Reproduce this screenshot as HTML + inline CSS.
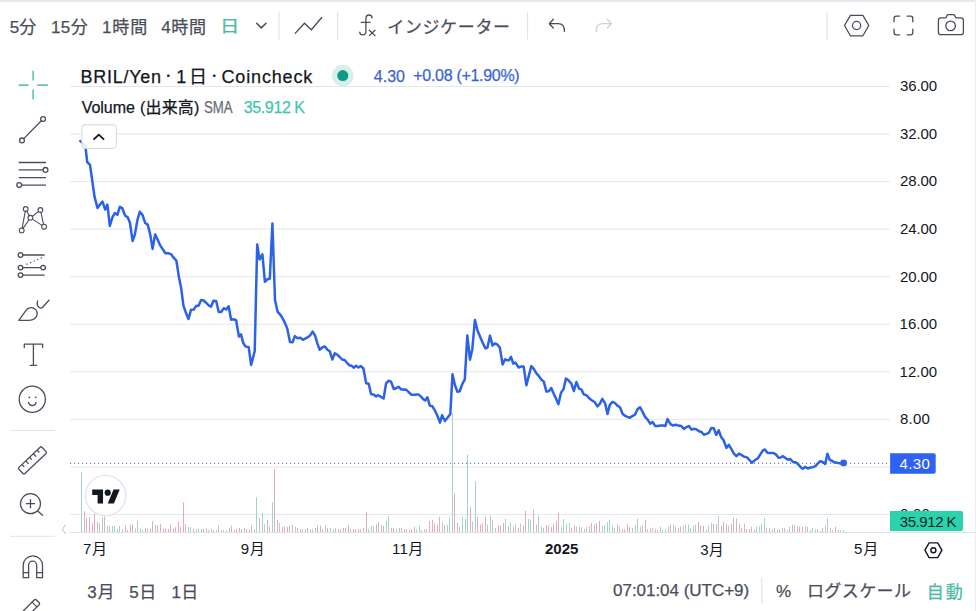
<!DOCTYPE html>
<html lang="ja"><head><meta charset="utf-8"><title>BRIL/Yen chart</title>
<style>
html,body{margin:0;padding:0;background:#fff;}
body{width:976px;height:611px;overflow:hidden;position:relative;font-family:"Liberation Sans","Noto Sans CJK JP",sans-serif;color:#4a4e5a;}
#root{position:absolute;left:0;top:0;width:976px;height:611px;overflow:hidden;background:#fff;}
.t{position:absolute;white-space:nowrap;line-height:1;}
.s{-webkit-text-stroke:0.25px currentColor;}
.tb{font-size:17px;color:#4a4e5a;}
.ax{font-size:15px;color:#131722;}
.ic{position:absolute;overflow:visible;}
.ic *{vector-effect:none;}
</style></head><body><div id="root">
<div style="position:absolute;left:0;top:0;width:976px;height:2px;background:#e7e9ef"></div>
<div style="position:absolute;left:975px;top:0;width:1px;height:611px;background:#eceef2"></div>
<svg id="chart" width="976" height="611" viewBox="0 0 976 611" style="position:absolute;left:0;top:0">
<rect x="70" y="86" width="820" height="1" fill="#e5e6ea"/>
<rect x="70" y="133.55" width="820" height="1" fill="#e5e6ea"/>
<rect x="70" y="181.1" width="820" height="1" fill="#e5e6ea"/>
<rect x="70" y="228.65" width="820" height="1" fill="#e5e6ea"/>
<rect x="70" y="276.2" width="820" height="1" fill="#e5e6ea"/>
<rect x="70" y="323.75" width="820" height="1" fill="#e5e6ea"/>
<rect x="70" y="371.3" width="820" height="1" fill="#e5e6ea"/>
<rect x="70" y="418.85" width="820" height="1" fill="#e5e6ea"/>
<rect x="70" y="466.4" width="820" height="1" fill="#e5e6ea"/>
<rect x="70" y="513.95" width="820" height="1" fill="#e5e6ea"/>
<rect x="70" y="532" width="905" height="1" fill="#e1e3e9"/>
<rect x="81" y="472.2" width="1" height="60" fill="#a4d3cc"/>
<rect x="84" y="511.2" width="1" height="21" fill="#e4abb8"/>
<rect x="86" y="517.8" width="1" height="14.4" fill="#e4abb8"/>
<rect x="89" y="517.2" width="1" height="15" fill="#e4abb8"/>
<rect x="92" y="523.2" width="1" height="9" fill="#e4abb8"/>
<rect x="94" y="513.8" width="1" height="18.4" fill="#e4abb8"/>
<rect x="97" y="521.8" width="1" height="10.4" fill="#e4abb8"/>
<rect x="99" y="523.2" width="1" height="9" fill="#a4d3cc"/>
<rect x="102" y="517.2" width="1" height="15" fill="#a4d3cc"/>
<rect x="104" y="516.5" width="1" height="15.7" fill="#e4abb8"/>
<rect x="107" y="525.8" width="1" height="6.4" fill="#a4d3cc"/>
<rect x="109" y="525.8" width="1" height="6.4" fill="#e4abb8"/>
<rect x="112" y="525.8" width="1" height="6.4" fill="#a4d3cc"/>
<rect x="114" y="525.8" width="1" height="6.4" fill="#a4d3cc"/>
<rect x="117" y="529.2" width="1" height="3" fill="#a4d3cc"/>
<rect x="119" y="525.8" width="1" height="6.4" fill="#a4d3cc"/>
<rect x="122" y="529.2" width="1" height="3" fill="#a4d3cc"/>
<rect x="125" y="525.8" width="1" height="6.4" fill="#e4abb8"/>
<rect x="127" y="529.8" width="1" height="2.4" fill="#e4abb8"/>
<rect x="130" y="524.7" width="1" height="7.5" fill="#e4abb8"/>
<rect x="132" y="524.2" width="1" height="8" fill="#e4abb8"/>
<rect x="135" y="528.5" width="1" height="3.7" fill="#a4d3cc"/>
<rect x="137" y="521.2" width="1" height="11" fill="#a4d3cc"/>
<rect x="140" y="528.5" width="1" height="3.7" fill="#a4d3cc"/>
<rect x="142" y="529.8" width="1" height="2.4" fill="#a4d3cc"/>
<rect x="145" y="527.8" width="1" height="4.4" fill="#e4abb8"/>
<rect x="147" y="528.7" width="1" height="3.5" fill="#a4d3cc"/>
<rect x="150" y="528.5" width="1" height="3.7" fill="#e4abb8"/>
<rect x="152" y="521.2" width="1" height="11" fill="#e4abb8"/>
<rect x="155" y="524.7" width="1" height="7.5" fill="#a4d3cc"/>
<rect x="157" y="525.2" width="1" height="7" fill="#e4abb8"/>
<rect x="160" y="523.8" width="1" height="8.4" fill="#e4abb8"/>
<rect x="163" y="528.7" width="1" height="3.5" fill="#e4abb8"/>
<rect x="165" y="528.5" width="1" height="3.7" fill="#e4abb8"/>
<rect x="168" y="529.2" width="1" height="3" fill="#e4abb8"/>
<rect x="170" y="524.7" width="1" height="7.5" fill="#e4abb8"/>
<rect x="173" y="528.5" width="1" height="3.7" fill="#e4abb8"/>
<rect x="175" y="527.2" width="1" height="5" fill="#e4abb8"/>
<rect x="178" y="521.2" width="1" height="11" fill="#e4abb8"/>
<rect x="180" y="527.2" width="1" height="5" fill="#e4abb8"/>
<rect x="183" y="502.2" width="1" height="30" fill="#e4abb8"/>
<rect x="185" y="524.2" width="1" height="8" fill="#e4abb8"/>
<rect x="188" y="526.9" width="1" height="5.3" fill="#a4d3cc"/>
<rect x="190" y="527.2" width="1" height="5" fill="#a4d3cc"/>
<rect x="193" y="528.5" width="1" height="3.7" fill="#e4abb8"/>
<rect x="196" y="529.2" width="1" height="3" fill="#a4d3cc"/>
<rect x="198" y="528.5" width="1" height="3.7" fill="#a4d3cc"/>
<rect x="201" y="529.2" width="1" height="3" fill="#a4d3cc"/>
<rect x="203" y="529.2" width="1" height="3" fill="#e4abb8"/>
<rect x="206" y="528.6" width="1" height="3.6" fill="#e4abb8"/>
<rect x="208" y="530.2" width="1" height="2" fill="#e4abb8"/>
<rect x="211" y="528.9" width="1" height="3.3" fill="#a4d3cc"/>
<rect x="213" y="530.2" width="1" height="2" fill="#a4d3cc"/>
<rect x="216" y="530.2" width="1" height="2" fill="#e4abb8"/>
<rect x="218" y="525.7" width="1" height="6.5" fill="#e4abb8"/>
<rect x="221" y="530.2" width="1" height="2" fill="#a4d3cc"/>
<rect x="223" y="530.2" width="1" height="2" fill="#a4d3cc"/>
<rect x="226" y="530.2" width="1" height="2" fill="#e4abb8"/>
<rect x="229" y="527.9" width="1" height="4.3" fill="#a4d3cc"/>
<rect x="231" y="525.7" width="1" height="6.5" fill="#e4abb8"/>
<rect x="234" y="530.2" width="1" height="2" fill="#e4abb8"/>
<rect x="236" y="529.2" width="1" height="3" fill="#e4abb8"/>
<rect x="239" y="527.9" width="1" height="4.3" fill="#e4abb8"/>
<rect x="241" y="529.2" width="1" height="3" fill="#a4d3cc"/>
<rect x="244" y="527.9" width="1" height="4.3" fill="#e4abb8"/>
<rect x="246" y="529.2" width="1" height="3" fill="#e4abb8"/>
<rect x="249" y="530.2" width="1" height="2" fill="#e4abb8"/>
<rect x="251" y="525.7" width="1" height="6.5" fill="#e4abb8"/>
<rect x="254" y="529.2" width="1" height="3" fill="#a4d3cc"/>
<rect x="256" y="497.2" width="1" height="35" fill="#a4d3cc"/>
<rect x="259" y="517.9" width="1" height="14.3" fill="#e4abb8"/>
<rect x="262" y="512.8" width="1" height="19.4" fill="#a4d3cc"/>
<rect x="264" y="523.9" width="1" height="8.3" fill="#a4d3cc"/>
<rect x="267" y="520" width="1" height="12.2" fill="#e4abb8"/>
<rect x="269" y="526.5" width="1" height="5.7" fill="#e4abb8"/>
<rect x="272" y="502.2" width="1" height="30" fill="#a4d3cc"/>
<rect x="274" y="469.2" width="1" height="63" fill="#e4abb8"/>
<rect x="277" y="520" width="1" height="12.2" fill="#e4abb8"/>
<rect x="279" y="522.9" width="1" height="9.3" fill="#a4d3cc"/>
<rect x="282" y="526.7" width="1" height="5.5" fill="#e4abb8"/>
<rect x="284" y="526.7" width="1" height="5.5" fill="#e4abb8"/>
<rect x="287" y="526.7" width="1" height="5.5" fill="#e4abb8"/>
<rect x="289" y="525.7" width="1" height="6.5" fill="#e4abb8"/>
<rect x="292" y="525" width="1" height="7.2" fill="#e4abb8"/>
<rect x="295" y="526.7" width="1" height="5.5" fill="#a4d3cc"/>
<rect x="297" y="527.9" width="1" height="4.3" fill="#e4abb8"/>
<rect x="300" y="529.2" width="1" height="3" fill="#e4abb8"/>
<rect x="302" y="529.2" width="1" height="3" fill="#a4d3cc"/>
<rect x="305" y="529.2" width="1" height="3" fill="#a4d3cc"/>
<rect x="307" y="527.9" width="1" height="4.3" fill="#e4abb8"/>
<rect x="310" y="529.2" width="1" height="3" fill="#a4d3cc"/>
<rect x="312" y="529.2" width="1" height="3" fill="#a4d3cc"/>
<rect x="315" y="527.9" width="1" height="4.3" fill="#e4abb8"/>
<rect x="317" y="525.7" width="1" height="6.5" fill="#e4abb8"/>
<rect x="320" y="525.7" width="1" height="6.5" fill="#e4abb8"/>
<rect x="322" y="529.2" width="1" height="3" fill="#e4abb8"/>
<rect x="325" y="525" width="1" height="7.2" fill="#a4d3cc"/>
<rect x="327" y="527.9" width="1" height="4.3" fill="#e4abb8"/>
<rect x="330" y="527.9" width="1" height="4.3" fill="#e4abb8"/>
<rect x="333" y="529.2" width="1" height="3" fill="#a4d3cc"/>
<rect x="335" y="527.9" width="1" height="4.3" fill="#a4d3cc"/>
<rect x="338" y="529.2" width="1" height="3" fill="#e4abb8"/>
<rect x="340" y="529.2" width="1" height="3" fill="#e4abb8"/>
<rect x="343" y="527.9" width="1" height="4.3" fill="#e4abb8"/>
<rect x="345" y="527.9" width="1" height="4.3" fill="#e4abb8"/>
<rect x="348" y="525" width="1" height="7.2" fill="#e4abb8"/>
<rect x="350" y="529.2" width="1" height="3" fill="#e4abb8"/>
<rect x="353" y="529.2" width="1" height="3" fill="#e4abb8"/>
<rect x="355" y="529.2" width="1" height="3" fill="#e4abb8"/>
<rect x="358" y="529.2" width="1" height="3" fill="#e4abb8"/>
<rect x="360" y="529.2" width="1" height="3" fill="#a4d3cc"/>
<rect x="363" y="527.9" width="1" height="4.3" fill="#e4abb8"/>
<rect x="366" y="511.8" width="1" height="20.4" fill="#e4abb8"/>
<rect x="368" y="529.2" width="1" height="3" fill="#e4abb8"/>
<rect x="371" y="525.7" width="1" height="6.5" fill="#a4d3cc"/>
<rect x="373" y="525.7" width="1" height="6.5" fill="#a4d3cc"/>
<rect x="376" y="523.9" width="1" height="8.3" fill="#e4abb8"/>
<rect x="378" y="521.9" width="1" height="10.3" fill="#a4d3cc"/>
<rect x="381" y="524.7" width="1" height="7.5" fill="#e4abb8"/>
<rect x="383" y="525.7" width="1" height="6.5" fill="#e4abb8"/>
<rect x="386" y="521" width="1" height="11.2" fill="#a4d3cc"/>
<rect x="388" y="516" width="1" height="16.2" fill="#a4d3cc"/>
<rect x="391" y="527.9" width="1" height="4.3" fill="#e4abb8"/>
<rect x="393" y="527.9" width="1" height="4.3" fill="#e4abb8"/>
<rect x="396" y="529.2" width="1" height="3" fill="#a4d3cc"/>
<rect x="399" y="527.9" width="1" height="4.3" fill="#a4d3cc"/>
<rect x="401" y="527.9" width="1" height="4.3" fill="#e4abb8"/>
<rect x="404" y="529.2" width="1" height="3" fill="#e4abb8"/>
<rect x="406" y="529.2" width="1" height="3" fill="#e4abb8"/>
<rect x="409" y="530.2" width="1" height="2" fill="#e4abb8"/>
<rect x="411" y="529.2" width="1" height="3" fill="#e4abb8"/>
<rect x="414" y="526.7" width="1" height="5.5" fill="#e4abb8"/>
<rect x="416" y="529.2" width="1" height="3" fill="#a4d3cc"/>
<rect x="419" y="525.7" width="1" height="6.5" fill="#a4d3cc"/>
<rect x="421" y="530.2" width="1" height="2" fill="#e4abb8"/>
<rect x="424" y="529.2" width="1" height="3" fill="#e4abb8"/>
<rect x="426" y="529.2" width="1" height="3" fill="#a4d3cc"/>
<rect x="429" y="521" width="1" height="11.2" fill="#e4abb8"/>
<rect x="432" y="520" width="1" height="12.2" fill="#e4abb8"/>
<rect x="434" y="523.6" width="1" height="8.6" fill="#e4abb8"/>
<rect x="437" y="525" width="1" height="7.2" fill="#e4abb8"/>
<rect x="439" y="516.7" width="1" height="15.5" fill="#e4abb8"/>
<rect x="442" y="521.9" width="1" height="10.3" fill="#a4d3cc"/>
<rect x="444" y="525" width="1" height="7.2" fill="#e4abb8"/>
<rect x="447" y="525" width="1" height="7.2" fill="#a4d3cc"/>
<rect x="449" y="517.9" width="1" height="14.3" fill="#a4d3cc"/>
<rect x="452" y="413.2" width="1" height="119" fill="#a4d3cc"/>
<rect x="454" y="493.8" width="1" height="38.4" fill="#e4abb8"/>
<rect x="457" y="522.9" width="1" height="9.3" fill="#e4abb8"/>
<rect x="459" y="526.7" width="1" height="5.5" fill="#a4d3cc"/>
<rect x="462" y="516.7" width="1" height="15.5" fill="#a4d3cc"/>
<rect x="465" y="518.6" width="1" height="13.6" fill="#a4d3cc"/>
<rect x="467" y="454.7" width="1" height="77.5" fill="#a4d3cc"/>
<rect x="470" y="506.8" width="1" height="25.4" fill="#e4abb8"/>
<rect x="472" y="521.8" width="1" height="10.4" fill="#a4d3cc"/>
<rect x="475" y="481.4" width="1" height="50.8" fill="#a4d3cc"/>
<rect x="477" y="516.7" width="1" height="15.5" fill="#e4abb8"/>
<rect x="480" y="524.5" width="1" height="7.7" fill="#e4abb8"/>
<rect x="482" y="523.4" width="1" height="8.8" fill="#e4abb8"/>
<rect x="485" y="516.7" width="1" height="15.5" fill="#e4abb8"/>
<rect x="487" y="524.5" width="1" height="7.7" fill="#a4d3cc"/>
<rect x="490" y="515.6" width="1" height="16.6" fill="#a4d3cc"/>
<rect x="492" y="520.2" width="1" height="12" fill="#e4abb8"/>
<rect x="495" y="527.8" width="1" height="4.4" fill="#a4d3cc"/>
<rect x="498" y="525.6" width="1" height="6.6" fill="#e4abb8"/>
<rect x="500" y="525.6" width="1" height="6.6" fill="#e4abb8"/>
<rect x="503" y="522.9" width="1" height="9.3" fill="#e4abb8"/>
<rect x="505" y="518.5" width="1" height="13.7" fill="#a4d3cc"/>
<rect x="508" y="526" width="1" height="6.2" fill="#e4abb8"/>
<rect x="510" y="522.9" width="1" height="9.3" fill="#a4d3cc"/>
<rect x="513" y="526.7" width="1" height="5.5" fill="#e4abb8"/>
<rect x="515" y="523.8" width="1" height="8.4" fill="#a4d3cc"/>
<rect x="518" y="527.8" width="1" height="4.4" fill="#e4abb8"/>
<rect x="520" y="523.8" width="1" height="8.4" fill="#a4d3cc"/>
<rect x="523" y="525.6" width="1" height="6.6" fill="#e4abb8"/>
<rect x="525" y="510.8" width="1" height="21.4" fill="#e4abb8"/>
<rect x="528" y="518.9" width="1" height="13.3" fill="#a4d3cc"/>
<rect x="530" y="519.6" width="1" height="12.6" fill="#a4d3cc"/>
<rect x="533" y="509.7" width="1" height="22.5" fill="#e4abb8"/>
<rect x="536" y="524.5" width="1" height="7.7" fill="#e4abb8"/>
<rect x="538" y="515.6" width="1" height="16.6" fill="#a4d3cc"/>
<rect x="541" y="526.7" width="1" height="5.5" fill="#a4d3cc"/>
<rect x="543" y="527.8" width="1" height="4.4" fill="#a4d3cc"/>
<rect x="546" y="524.9" width="1" height="7.3" fill="#e4abb8"/>
<rect x="548" y="525.6" width="1" height="6.6" fill="#e4abb8"/>
<rect x="551" y="526.7" width="1" height="5.5" fill="#e4abb8"/>
<rect x="553" y="523.8" width="1" height="8.4" fill="#e4abb8"/>
<rect x="556" y="520.7" width="1" height="11.5" fill="#e4abb8"/>
<rect x="558" y="512.8" width="1" height="19.4" fill="#e4abb8"/>
<rect x="561" y="526.7" width="1" height="5.5" fill="#a4d3cc"/>
<rect x="563" y="518.9" width="1" height="13.3" fill="#a4d3cc"/>
<rect x="566" y="523.8" width="1" height="8.4" fill="#a4d3cc"/>
<rect x="569" y="522.9" width="1" height="9.3" fill="#a4d3cc"/>
<rect x="571" y="527.8" width="1" height="4.4" fill="#e4abb8"/>
<rect x="574" y="524.9" width="1" height="7.3" fill="#e4abb8"/>
<rect x="576" y="526.7" width="1" height="5.5" fill="#a4d3cc"/>
<rect x="579" y="526.7" width="1" height="5.5" fill="#e4abb8"/>
<rect x="581" y="527.3" width="1" height="4.9" fill="#e4abb8"/>
<rect x="584" y="528.9" width="1" height="3.3" fill="#a4d3cc"/>
<rect x="586" y="526.7" width="1" height="5.5" fill="#a4d3cc"/>
<rect x="589" y="525.6" width="1" height="6.6" fill="#e4abb8"/>
<rect x="591" y="522.9" width="1" height="9.3" fill="#e4abb8"/>
<rect x="594" y="524.5" width="1" height="7.7" fill="#e4abb8"/>
<rect x="596" y="522.9" width="1" height="9.3" fill="#e4abb8"/>
<rect x="599" y="520.7" width="1" height="11.5" fill="#e4abb8"/>
<rect x="602" y="526" width="1" height="6.2" fill="#a4d3cc"/>
<rect x="604" y="525.6" width="1" height="6.6" fill="#a4d3cc"/>
<rect x="607" y="522.2" width="1" height="10" fill="#a4d3cc"/>
<rect x="609" y="519.6" width="1" height="12.6" fill="#a4d3cc"/>
<rect x="612" y="525.7" width="1" height="6.5" fill="#a4d3cc"/>
<rect x="614" y="527.9" width="1" height="4.3" fill="#a4d3cc"/>
<rect x="617" y="524.7" width="1" height="7.5" fill="#e4abb8"/>
<rect x="619" y="526.7" width="1" height="5.5" fill="#a4d3cc"/>
<rect x="622" y="529.2" width="1" height="3" fill="#e4abb8"/>
<rect x="624" y="529.2" width="1" height="3" fill="#e4abb8"/>
<rect x="627" y="523.9" width="1" height="8.3" fill="#e4abb8"/>
<rect x="629" y="526.7" width="1" height="5.5" fill="#e4abb8"/>
<rect x="632" y="527.9" width="1" height="4.3" fill="#a4d3cc"/>
<rect x="635" y="525" width="1" height="7.2" fill="#a4d3cc"/>
<rect x="637" y="518.6" width="1" height="13.6" fill="#a4d3cc"/>
<rect x="640" y="526.7" width="1" height="5.5" fill="#a4d3cc"/>
<rect x="642" y="525.7" width="1" height="6.5" fill="#e4abb8"/>
<rect x="645" y="520" width="1" height="12.2" fill="#e4abb8"/>
<rect x="647" y="529.2" width="1" height="3" fill="#e4abb8"/>
<rect x="650" y="527.9" width="1" height="4.3" fill="#e4abb8"/>
<rect x="652" y="527.9" width="1" height="4.3" fill="#a4d3cc"/>
<rect x="655" y="529.2" width="1" height="3" fill="#e4abb8"/>
<rect x="657" y="530.2" width="1" height="2" fill="#e4abb8"/>
<rect x="660" y="526.7" width="1" height="5.5" fill="#a4d3cc"/>
<rect x="662" y="530.2" width="1" height="2" fill="#a4d3cc"/>
<rect x="665" y="529.2" width="1" height="3" fill="#a4d3cc"/>
<rect x="668" y="526.7" width="1" height="5.5" fill="#a4d3cc"/>
<rect x="670" y="524.7" width="1" height="7.5" fill="#e4abb8"/>
<rect x="673" y="524.7" width="1" height="7.5" fill="#a4d3cc"/>
<rect x="675" y="526.7" width="1" height="5.5" fill="#e4abb8"/>
<rect x="678" y="527.9" width="1" height="4.3" fill="#e4abb8"/>
<rect x="680" y="526.7" width="1" height="5.5" fill="#e4abb8"/>
<rect x="683" y="525.7" width="1" height="6.5" fill="#a4d3cc"/>
<rect x="685" y="524.7" width="1" height="7.5" fill="#a4d3cc"/>
<rect x="688" y="524.7" width="1" height="7.5" fill="#a4d3cc"/>
<rect x="690" y="527.9" width="1" height="4.3" fill="#e4abb8"/>
<rect x="693" y="525.7" width="1" height="6.5" fill="#a4d3cc"/>
<rect x="695" y="524.7" width="1" height="7.5" fill="#a4d3cc"/>
<rect x="698" y="521.9" width="1" height="10.3" fill="#e4abb8"/>
<rect x="700" y="525.7" width="1" height="6.5" fill="#e4abb8"/>
<rect x="703" y="525.7" width="1" height="6.5" fill="#e4abb8"/>
<rect x="706" y="529.2" width="1" height="3" fill="#a4d3cc"/>
<rect x="708" y="525.7" width="1" height="6.5" fill="#a4d3cc"/>
<rect x="711" y="522.9" width="1" height="9.3" fill="#a4d3cc"/>
<rect x="713" y="523.9" width="1" height="8.3" fill="#e4abb8"/>
<rect x="716" y="523.9" width="1" height="8.3" fill="#e4abb8"/>
<rect x="718" y="516" width="1" height="16.2" fill="#a4d3cc"/>
<rect x="721" y="525.7" width="1" height="6.5" fill="#e4abb8"/>
<rect x="723" y="521.9" width="1" height="10.3" fill="#e4abb8"/>
<rect x="726" y="523.9" width="1" height="8.3" fill="#e4abb8"/>
<rect x="728" y="525.7" width="1" height="6.5" fill="#a4d3cc"/>
<rect x="731" y="523.9" width="1" height="8.3" fill="#e4abb8"/>
<rect x="733" y="517.9" width="1" height="14.3" fill="#e4abb8"/>
<rect x="736" y="518.6" width="1" height="13.6" fill="#e4abb8"/>
<rect x="739" y="523.9" width="1" height="8.3" fill="#a4d3cc"/>
<rect x="741" y="527.9" width="1" height="4.3" fill="#e4abb8"/>
<rect x="744" y="523.9" width="1" height="8.3" fill="#e4abb8"/>
<rect x="746" y="529.2" width="1" height="3" fill="#e4abb8"/>
<rect x="749" y="529.2" width="1" height="3" fill="#e4abb8"/>
<rect x="751" y="526.7" width="1" height="5.5" fill="#e4abb8"/>
<rect x="754" y="529.2" width="1" height="3" fill="#e4abb8"/>
<rect x="756" y="526.7" width="1" height="5.5" fill="#a4d3cc"/>
<rect x="759" y="526.7" width="1" height="5.5" fill="#a4d3cc"/>
<rect x="761" y="523.9" width="1" height="8.3" fill="#a4d3cc"/>
<rect x="764" y="517.9" width="1" height="14.3" fill="#a4d3cc"/>
<rect x="766" y="527.9" width="1" height="4.3" fill="#e4abb8"/>
<rect x="769" y="527.9" width="1" height="4.3" fill="#e4abb8"/>
<rect x="772" y="529.2" width="1" height="3" fill="#a4d3cc"/>
<rect x="774" y="527.9" width="1" height="4.3" fill="#e4abb8"/>
<rect x="777" y="530.2" width="1" height="2" fill="#e4abb8"/>
<rect x="779" y="529.2" width="1" height="3" fill="#e4abb8"/>
<rect x="782" y="527.9" width="1" height="4.3" fill="#a4d3cc"/>
<rect x="784" y="527.9" width="1" height="4.3" fill="#e4abb8"/>
<rect x="787" y="530.2" width="1" height="2" fill="#a4d3cc"/>
<rect x="789" y="526.7" width="1" height="5.5" fill="#a4d3cc"/>
<rect x="792" y="524.7" width="1" height="7.5" fill="#e4abb8"/>
<rect x="794" y="524.7" width="1" height="7.5" fill="#a4d3cc"/>
<rect x="797" y="526.7" width="1" height="5.5" fill="#e4abb8"/>
<rect x="799" y="526.7" width="1" height="5.5" fill="#e4abb8"/>
<rect x="802" y="526.7" width="1" height="5.5" fill="#e4abb8"/>
<rect x="805" y="525.7" width="1" height="6.5" fill="#a4d3cc"/>
<rect x="807" y="526.7" width="1" height="5.5" fill="#e4abb8"/>
<rect x="810" y="530.2" width="1" height="2" fill="#a4d3cc"/>
<rect x="812" y="527.9" width="1" height="4.3" fill="#a4d3cc"/>
<rect x="815" y="529.2" width="1" height="3" fill="#a4d3cc"/>
<rect x="817" y="529.2" width="1" height="3" fill="#a4d3cc"/>
<rect x="820" y="531" width="1" height="1.2" fill="#e4abb8"/>
<rect x="822" y="527.9" width="1" height="4.3" fill="#e4abb8"/>
<rect x="825" y="525.7" width="1" height="6.5" fill="#a4d3cc"/>
<rect x="827" y="517.9" width="1" height="14.3" fill="#a4d3cc"/>
<rect x="830" y="527.9" width="1" height="4.3" fill="#e4abb8"/>
<rect x="832" y="530.2" width="1" height="2" fill="#e4abb8"/>
<rect x="835" y="526.7" width="1" height="5.5" fill="#e4abb8"/>
<rect x="838" y="530.2" width="1" height="2" fill="#e4abb8"/>
<rect x="840" y="530.2" width="1" height="2" fill="#a4d3cc"/>
<rect x="843" y="530.2" width="1" height="2" fill="#a4d3cc"/>
<line x1="70" y1="463.3" x2="890" y2="463.3" stroke="#3a57b5" stroke-width="1.1" stroke-dasharray="1.1 2.9"/>
<polyline points="80.3,141 83,143.5 85.6,148 87.2,162 90,164.8 92.3,181 94.6,197.2 97.5,207.9 100,204.5 102.5,201.6 105.2,209.5 107.4,204.6 109.8,225.9 112.5,217.2 114.9,213.1 117.4,214.8 119.8,206.9 122.3,208.2 125.1,215.6 127.7,217.2 130,223 132.6,241 134.9,234.4 137.5,219.7 139.8,211.8 142.5,214.8 145.2,223 147.7,224.6 150.2,234.4 152.6,248.9 155.1,234.4 157.5,239.3 160,245.1 162.5,248.9 165.4,253.3 168.2,253.3 171,254.1 173.6,257.7 176.4,260.7 178.9,277 181.2,288.3 183.4,305.4 185.9,312.8 188.5,319 191,309.8 193.8,309.5 196.2,305.9 198.7,305.4 201.1,300 203.6,300.5 206.4,303 209,305.7 211,306.7 213.4,300.8 216.2,301 218.7,312 221.1,312 223.8,308.2 226.2,309.5 228.7,306.2 231.1,319.7 233.6,319.3 236.1,320.2 238.9,336.6 241,334.4 243.3,343.1 245.4,346.4 248.7,347.2 251.1,364.9 254.7,351.3 257.2,244.5 259.6,259.5 262.4,254.3 264.9,281.8 267.5,279.2 269.8,278.8 272.4,223.5 275,300 277.5,311.6 280,314.3 282.3,317.7 284.8,322.6 287.2,328.4 290,342 292.6,342.3 294.9,336.1 297.5,338.2 300.3,337.7 302.8,339.8 305.2,338.7 307.5,337.4 310,335.6 312.6,331.6 315.1,335.7 317.5,343.9 319.7,349.7 322.5,347.2 324.9,346.4 327.4,349.7 329.8,351.3 332.3,359.5 334.8,353.3 337.2,354.6 339.7,357 342.1,359.5 344.6,360 347,362.8 349.2,365.2 351.5,365.7 353.6,367.7 356.1,365.7 358.5,367.4 361,366.1 363.4,368.5 366.2,383.3 368.7,383.8 371.1,394.3 373.6,394.4 376.1,396.4 378.2,395.2 381,396.9 383.6,398.5 386.1,383.3 388.5,380.8 391,381.6 393.8,389 396.2,388.2 398.7,386.9 401.1,389.3 403.6,389.8 406.1,389.5 408.5,392 411.5,394.8 414.3,394.8 416.7,394.4 418.4,394.4 420.8,396.4 423,398.9 425.2,400.5 427.4,397.2 429.8,405.7 432.3,406.2 434.8,410.3 437.2,415.2 440,422.6 442.1,415.2 444.9,421 447.5,417.7 450.3,413.9 452.5,374.3 454.8,384.8 457.4,391.7 459.7,391.2 462.4,383.8 464.8,379.4 467.3,335.4 470,359.7 472.3,349.2 474.9,320 477.4,330.3 480.2,336.9 483,343.4 485.4,348.4 487.5,347.5 490,335.6 492.5,345.6 494.9,343.4 497.4,344.6 499.8,347.5 502.6,364.4 505.1,359.3 507.5,360.3 508.9,360.3 511,356.9 513.3,363.6 515.4,362.6 518.7,367.5 521.5,366.4 523.6,366.4 526.4,385.2 528.9,375.4 531.3,366.1 533.8,368.9 536.4,373.4 538.9,376.2 541.3,379.5 543.8,381.6 546.4,391.6 548.8,391.3 551.3,388.1 553.6,393.5 556,398.8 558.4,404.3 561,392.7 563.6,389.1 565.9,378.5 568.7,380.6 571.3,383.5 573.9,391 576.4,382 579,388.6 581.3,389.4 583.8,394.4 586.3,395.2 589.2,398.2 592.1,400.5 594.9,402.3 597.4,406.4 599.8,403.9 602.3,398.9 605.1,403.4 607.5,414.1 609.7,405.1 612.5,401.8 614.9,403 617.4,405.6 620,407.2 622.5,413.8 624.9,415.7 627.4,416.9 629.8,417.7 632.3,416.1 635.1,414.6 637.5,409.2 640,407.2 642.5,411.6 644.9,416.6 647.7,419.8 650.2,423.6 652.6,422 655.1,425.9 657.7,426.1 660.5,425.6 663,425.6 665.4,425.9 667.5,419 670.3,423.9 673.1,425.6 675.7,424.8 678.5,425.6 681.3,426.1 683.9,428.9 686.2,427.2 688.9,426.1 691.4,429.6 694.1,428.8 696.6,429.4 699,431.3 701.5,432 703.9,434.8 706.4,433.9 708.9,432.8 711.3,427.9 713.8,428.2 716.2,434.9 718.7,430.3 721.1,436.9 723.6,440.2 726.4,447.9 728.9,444.8 731.3,448.9 733.8,453.3 736.4,456.1 738.9,453.6 741.3,454.9 744.1,456.6 747,457.4 749.3,459.8 751.8,462.8 754.8,460.3 758,458.2 760.5,454.1 763,450.3 764.9,449.5 767.4,452.8 770.3,453 773.6,453 776.1,454.6 778.5,457.7 781,457.4 782.6,456.1 785.1,457.7 787.9,459.8 790.3,459 793,462 795.7,462.3 798.2,464.4 800.7,467.2 802.8,468.9 805.1,466.9 807.7,468.5 810.5,467.5 813,467.2 815.4,466.1 817.9,463.4 820.3,461.1 822.8,462 825.2,463.9 827.4,453.8 829.7,459.8 832.3,461 835.1,462.6 838.4,463.1 840.8,463.4 843.6,462.8" fill="none" stroke="#2c62e8" stroke-width="2.5" stroke-linejoin="round" stroke-linecap="round"/>
<circle cx="843.6" cy="462.9" r="3.4" fill="#2c62e8"/>
</svg>
<span class="t s" style="left:9.66px;top:18.62px;font-size:17px;color:#4a4e5a;letter-spacing:0.09px;">5分</span>
<span class="t s" style="left:51.03px;top:18.52px;font-size:17px;color:#4a4e5a;letter-spacing:0.36px;">15分</span>
<span class="t s" style="left:102.04px;top:19.11px;font-size:17px;color:#4a4e5a;letter-spacing:0.85px;">1時間</span>
<span class="t s" style="left:161.31px;top:18.86px;font-size:17px;color:#4a4e5a;letter-spacing:0.59px;">4時間</span>
<span class="t s" style="left:220.16px;top:19.38px;font-size:16px;color:#4dbba6;transform:scaleX(1.2057);transform-origin:0 0;">日</span>
<span class="t s" style="left:387.18px;top:19.09px;font-size:17px;color:#4a4e5a;letter-spacing:0.65px;">インジケーター</span>
<span class="t s" style="left:80.60px;top:67.67px;font-size:18px;color:#131722;letter-spacing:0.72px;">BRIL/Yen</span>
<span class="t s" style="left:176.29px;top:68.21px;font-size:18px;color:#131722;letter-spacing:2.74px;">1日</span>
<span class="t s" style="left:221.52px;top:67.92px;font-size:18px;color:#131722;letter-spacing:0.84px;">Coincheck</span>
<span class="t s" style="left:373.77px;top:69.14px;font-size:16px;color:#3a63d6;letter-spacing:0.02px;">4.30</span>
<span class="t s" style="left:413.25px;top:68.42px;font-size:16px;color:#3a63d6;letter-spacing:-0.30px;">+0.08 (+1.90%)</span>
<span class="t s" style="left:81.71px;top:100.31px;font-size:16px;color:#131722;letter-spacing:-0.04px;">Volume</span>
<span class="t s" style="left:140.01px;top:99.58px;font-size:16px;color:#131722;letter-spacing:0.15px;">(出来高)</span>
<span class="t s" style="left:204.41px;top:99.51px;font-size:16px;color:#6b6e78;transform:scaleX(0.8265);transform-origin:0 0;">SMA</span>
<span class="t s" style="left:243.66px;top:99.71px;font-size:16px;color:#3fc6b2;letter-spacing:-0.35px;">35.912</span>
<span class="t s" style="left:294.22px;top:99.86px;font-size:16px;color:#3fc6b2;">K</span>
<span class="t" style="left:83.03px;top:541.30px;font-size:15px;color:#131722;letter-spacing:0.67px;">7月</span>
<span class="t" style="left:240.71px;top:541.10px;font-size:15px;color:#131722;letter-spacing:0.75px;">9月</span>
<span class="t" style="left:391.90px;top:541.30px;font-size:15px;color:#131722;letter-spacing:0.38px;">11月</span>
<span class="t" style="left:544.89px;top:541.10px;font-size:15px;color:#131722;font-weight:700;letter-spacing:0.05px;">2025</span>
<span class="t" style="left:700.30px;top:541.70px;font-size:15px;color:#131722;letter-spacing:0.20px;">3月</span>
<span class="t" style="left:854.00px;top:541.30px;font-size:15px;color:#131722;letter-spacing:0.87px;">5月</span>
<span class="t s" style="left:87.22px;top:584.18px;font-size:17px;color:#4a4e5a;letter-spacing:0.95px;">3月</span>
<span class="t s" style="left:129.31px;top:583.63px;font-size:17px;color:#4a4e5a;letter-spacing:0.51px;">5日</span>
<span class="t s" style="left:171.40px;top:583.65px;font-size:17px;color:#4a4e5a;letter-spacing:0.33px;">1日</span>
<span class="t s" style="left:613.04px;top:581.52px;font-size:17px;color:#4a4e5a;letter-spacing:-0.03px;">07:01:04 (UTC+9)</span>
<span class="t s" style="left:775.98px;top:583.13px;font-size:17px;color:#4a4e5a;">%</span>
<span class="t s" style="left:806.89px;top:583.48px;font-size:17px;color:#4a4e5a;letter-spacing:0.42px;">ログスケール</span>
<span class="t s" style="left:926.78px;top:583.77px;font-size:17px;color:#4dbba6;letter-spacing:1.98px;">自動</span>
<span class="t" style="left:899.92px;top:78.10px;font-size:15px;color:#131722;letter-spacing:-0.08px;">36.00</span>
<span class="t" style="left:899.92px;top:126.20px;font-size:15px;color:#131722;letter-spacing:-0.08px;">32.00</span>
<span class="t" style="left:899.98px;top:173.30px;font-size:15px;color:#131722;letter-spacing:-0.09px;">28.00</span>
<span class="t" style="left:899.98px;top:221.40px;font-size:15px;color:#131722;letter-spacing:-0.09px;">24.00</span>
<span class="t" style="left:899.98px;top:268.50px;font-size:15px;color:#131722;letter-spacing:-0.09px;">20.00</span>
<span class="t" style="left:899.59px;top:315.60px;font-size:15px;color:#131722;">16.00</span>
<span class="t" style="left:899.59px;top:363.70px;font-size:15px;color:#131722;">12.00</span>
<span class="t" style="left:900.02px;top:410.80px;font-size:15px;color:#131722;letter-spacing:0.18px;">8.00</span>
<span class="t" style="left:900.10px;top:506.10px;font-size:15px;color:#131722;letter-spacing:0.15px;">0.00</span>
<span class="t" style="left:899.50px;top:455.90px;font-size:15px;color:#ffffff;letter-spacing:0.38px;z-index:5;">4.30</span>
<span class="t" style="left:899.71px;top:513.50px;font-size:15px;color:#0a2a24;letter-spacing:-0.41px;z-index:5;">35.912</span>
<span class="t" style="left:946.40px;top:513.50px;font-size:15px;color:#0a2a24;z-index:5;">K</span>
<span class="t" style="left:162.27px;top:70.63px;font-size:12px;color:#131722;">・</span>
<span class="t" style="left:208.24px;top:70.56px;font-size:12px;color:#131722;">・</span>
<svg id="icons" width="976" height="611" viewBox="0 0 976 611" style="position:absolute;left:0;top:0" fill="none" stroke-linecap="round" stroke-linejoin="round">
<rect x="278.4" y="12" width="1.2" height="27.5" fill="#e0e3eb" stroke="none"/>
<rect x="337.0" y="12" width="1.2" height="27.5" fill="#e0e3eb" stroke="none"/>
<rect x="526.9" y="12" width="1.2" height="27.5" fill="#e0e3eb" stroke="none"/>
<rect x="826.4" y="12" width="1.2" height="27.5" fill="#e0e3eb" stroke="none"/>
<rect x="761.2" y="577.7" width="1.2" height="26" fill="#e0e3eb" stroke="none"/>
<rect x="10" y="430" width="45" height="1" fill="#e0e3eb" stroke="none"/>
<rect x="10" y="535.8" width="45" height="1" fill="#e0e3eb" stroke="none"/>
<polyline points="256.6,23.3 261.3,27.9 266,23.3" stroke="#4a4e5a" stroke-width="1.5"/>
<polyline points="294.9,33.6 304.5,23.2 311.4,29.8 321.9,17.2" stroke="#4a4e5a" stroke-width="1.4" stroke-linecap="butt" stroke-linejoin="miter"/>
<g stroke="#4a4e5a" stroke-width="1.3"><path d="M372,17.9 C372,16 370.9,15 369.1,15 C367.1,15 365.9,16.3 365.9,18.6 L365.9,31.3 C365.9,33.6 364.8,34.8 362.8,34.8 C360.9,34.8 359.8,33.8 359.8,32.2"/><path d="M361.3,22.3 H370"/><path d="M369.4,30.3 L375,35.6 M375,30.3 L369.4,35.6"/></g>
<path d="M553.3,19.3 L549.3,23.7 L553.3,28 M549.3,23.7 H558.3 C562.4,23.7 564.5,26.6 564.5,31.5" stroke="#4a4e5a" stroke-width="1.3"/>
<path d="M607.3,19.3 L611.4,23.7 L607.3,28 M611.4,23.7 H602.4 C598.3,23.7 596.2,26.6 596.2,31.5" stroke="#cdd0d6" stroke-width="1.3"/>
<g stroke="#4a4e5a" stroke-width="1.3"><path d="M844.5,25.5 L850.4,15.3 H862.9 L868.8,25.5 L862.9,35.8 H850.4 Z"/><circle cx="856.6" cy="25.5" r="4.1"/></g>
<g stroke="#4a4e5a" stroke-width="1.3"><path d="M894,21.799999999999997 V18.4 Q894,16.2 896.2,16.2 H899.6"/><path d="M907.1999999999999,16.2 H910.5999999999999 Q912.8,16.2 912.8,18.4 V21.799999999999997"/><path d="M912.8,29.199999999999996 V32.599999999999994 Q912.8,34.8 910.5999999999999,34.8 H907.1999999999999"/><path d="M899.6,34.8 H896.2 Q894,34.8 894,32.599999999999994 V29.199999999999996"/></g>
<g stroke="#4a4e5a" stroke-width="1.3"><path d="M940.9,17.9 H945.2 C945.9,17.9 946.3,17.5 946.5,16.8 L946.9,15.6 C947.1,14.9 947.6,14.6 948.3,14.6 H953.4 C954.1,14.6 954.6,14.9 954.8,15.6 L955.2,16.8 C955.4,17.5 955.8,17.9 956.5,17.9 H960.9 C962.4,17.9 963.4,18.9 963.4,20.4 V32.2 C963.4,33.7 962.4,34.7 960.9,34.7 H940.9 C939.4,34.7 938.4,33.7 938.4,32.2 V20.4 C938.4,18.9 939.4,17.9 940.9,17.9 Z"/><circle cx="950.6" cy="25.9" r="4.8"/></g>
<g stroke="#5fc7b4" stroke-width="1.6" stroke-linecap="butt"><path d="M33.1,70.8 V80.6 M33.1,89.5 V99.5 M18.6,85.1 H28.6 M37.2,85.1 H47.8"/></g>
<g stroke="#4a4e5a" stroke-width="1.3"><circle cx="43.1" cy="119" r="2.4"/><circle cx="22" cy="140.4" r="2.4"/><path d="M41.3,120.8 L23.8,138.6"/></g>
<g stroke="#4a4e5a" stroke-width="1.3" stroke-linecap="butt"><path d="M18.6,162.5 H46 M18.6,169.9 H43 M18.6,177.6 H46 M21.8,185.1 H46"/><circle cx="45.5" cy="169.9" r="2.4"/><circle cx="19.2" cy="185.1" r="2.4"/></g>
<g stroke="#4a4e5a" stroke-width="1.1"><path d="M22.14,228.04 L25.26,211.36 M26.83,211.12 L29.27,215.68 M23.06,228.43 L29.04,219.77 M32.29,216.32 L38.51,211.48 M40.92,212.34 L43.58,224.36 M32.41,219.11 L42.09,225.39"/><circle cx="25.7" cy="209" r="2.4"/><circle cx="40.4" cy="210" r="2.4"/><circle cx="30.4" cy="217.8" r="2.4"/><circle cx="44.1" cy="226.7" r="2.4"/><circle cx="21.7" cy="230.4" r="2.4"/></g>
<g stroke="#4a4e5a" stroke-width="1.3" stroke-linecap="butt"><circle cx="20.5" cy="255" r="2.3"/><circle cx="20.5" cy="267.6" r="2.3"/><circle cx="43.1" cy="267.6" r="2.3"/><circle cx="20.5" cy="275.1" r="2.3"/><path d="M22.8,255 H44.6 M22.8,267.6 H40.8 M22.8,275.1 H44.6"/><path d="M26.4,264.3 L42.7,257.4" stroke-dasharray="1.3 2.6"/></g>
<g stroke="#4a4e5a" stroke-width="1.3"><path d="M18.8,320.3 L26.2,310.2 C28.6,306.9 33.2,306.8 35.7,309.6 C38.1,312.4 37.6,316.6 34.5,318.8 C32.6,320.1 31,320.3 29,320.3 Z"/><path d="M37.6,300.9 C36.8,303.5 37.3,306 39,307.3 C40.2,308.3 41.6,308.2 42.6,307.2 L49,300.3"/></g>
<g stroke="#4a4e5a" stroke-width="1.3"><path d="M24.3,347.6 V344.1 H42.6 V347.6 M33.4,344.1 V365.3 M30.2,365.3 H36.7"/></g>
<g stroke="#4a4e5a" stroke-width="1.3"><circle cx="32.3" cy="399.3" r="13.1"/><path d="M28.5,402.3 C29.6,406.6 35,406.6 36.1,402.3"/><circle cx="29.3" cy="397.3" r="0.9" fill="#4a4e5a" stroke="none"/><circle cx="35.7" cy="397.3" r="0.9" fill="#4a4e5a" stroke="none"/></g>
<g stroke="#4a4e5a" stroke-width="1.3" transform="translate(32.5,460.4) rotate(-43.6)"><rect x="-15.9" y="-4.3" width="31.8" height="8.6" rx="1.3"/><path d="M-10.4,-4.3 V-1 M-5.2,-4.3 V-0.2 M0,-4.3 V-1 M5.2,-4.3 V-0.2 M10.4,-4.3 V-1" stroke-linecap="butt"/></g>
<g stroke="#4a4e5a" stroke-width="1.3"><circle cx="30.5" cy="503.7" r="10"/><path d="M26.4,503.7 H34.6 M30.5,499.6 V507.8 M37.7,511 L42.6,515.2"/></g>
<polyline points="65.3,525.2 62.3,529.3 65.3,533.4" stroke="#b9bcc6" stroke-width="1"/>
<g stroke="#4a4e5a" stroke-width="1.3" stroke-linejoin="miter"><path d="M23.2,577.7 V565.45 A9.65,9.65 0 0 1 42.5,565.45 V577.7 H36.7 V565.25 A4.05,4.05 0 0 0 28.6,565.25 V577.7 Z"/><path d="M23.2,572.6 H28.6 M36.7,572.6 H42.5"/></g>
<g stroke="#4a4e5a" stroke-width="1.3" transform="translate(28.5,610.5) rotate(-45)"><rect x="-9" y="-3.4" width="22" height="6.8" rx="1.6"/><path d="M8.5,-3.4 V3.4"/></g>
<g stroke="#131722" stroke-width="1.4"><path d="M924.9,550.2 L929.1,542.9 H937.7 L941.9,550.2 L937.7,557.6 H929.1 Z"/><circle cx="933.4" cy="550.2" r="2.5"/></g>
<circle cx="342.8" cy="75.6" r="10.8" fill="#d7eeea" stroke="none"/><circle cx="342.8" cy="75.6" r="5.5" fill="#0f9a85" stroke="none"/>
<rect x="81.8" y="124.8" width="34.6" height="23.6" rx="3" fill="#ffffff" fill-opacity="0.88" stroke="#d6d8df" stroke-width="1"/>
<polyline points="94.2,139 98.8,134.7 103.4,139" stroke="#131722" stroke-width="1.8" stroke-linecap="square" stroke-linejoin="miter"/>
<circle cx="105.6" cy="495.5" r="20.2" fill="#ffffff" stroke="#e3e4ea" stroke-width="1.3"/>
<g transform="translate(92.2,486.45) scale(0.775)" fill="#131722" stroke="none"><path d="M14 22H7V11H0V4h14v18zM28 22h-8l7.5-18h8L28 22z"/><circle cx="20" cy="8" r="4"/></g>
<path d="M890.1,453.2 H933.7 Q935.7,453.2 935.7,455.2 V471.7 Q935.7,473.7 933.7,473.7 H890.1 Z" fill="#2e62f5" stroke="none"/>
</svg>
<div style="position:absolute;left:890.1px;top:511.1px;width:72.6px;height:20.3px;background:#2ad2ae;border-radius:0 2px 2px 0;z-index:4"></div>
</div></body></html>
